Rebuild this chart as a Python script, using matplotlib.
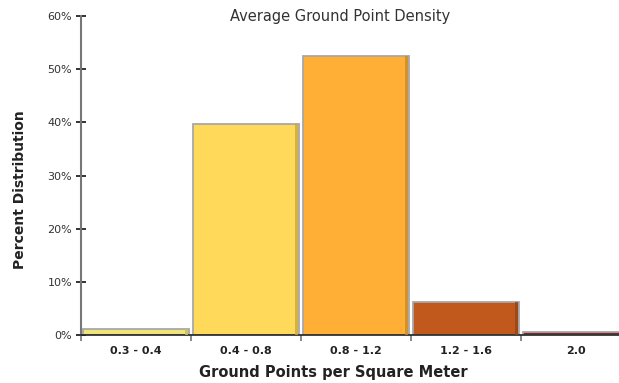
import numpy as np
import matplotlib.pyplot as plt
from matplotlib.ticker import FuncFormatter

categories = ['0.3 - 0.4', '0.4 - 0.8', '0.8 - 1.2', '1.2 - 1.6', '2.0']
percent = [1.1, 39.7, 52.4, 6.2, 0.6]
colors = ['#EFE47A', '#FFDA5A', '#FFAE36', '#C0591B', '#80292C']
shade = ['#C8BE60', '#C8A840', '#C88A2A', '#94441A', '#6A2024']

fig = plt.figure(figsize=(6.19, 3.83), dpi=100)
ax = fig.add_axes([81 / 619, 48 / 383, 550 / 619, 319 / 383])

x = np.arange(len(categories))
w = 0.965
ax.bar(x, percent, width=w, color=colors, edgecolor='#A8A8A8', linewidth=1.3, zorder=2)
# darker strip on the right side of each bar for the bevel look
s = 0.022
ax.bar(x + w / 2 - s / 2 - 0.012, percent, width=s, color=shade, linewidth=0, alpha=0.8, zorder=3)

ax.set_xlim(-0.5, len(categories) - 0.5)
ax.set_ylim(0, 60)
ax.set_yticks(np.arange(0, 61, 10))
ax.yaxis.set_major_formatter(FuncFormatter(lambda v, p: f'{v:.0f}%'))
ax.tick_params(axis='y', direction='inout', length=7, width=1.2, labelsize=8, color='#111111',
               labelcolor='#333333', pad=3)

ax.set_xticks(np.arange(len(categories) + 1) - 0.5)
ax.set_xticklabels([])
ax.set_xticks(x, minor=True)
ax.set_xticklabels(categories, minor=True, fontsize=8, fontweight='bold', color='#222222')
ax.tick_params(axis='x', which='major', direction='out', length=4, width=1.2, color='#777777')
ax.tick_params(axis='x', which='minor', length=0, pad=8)

for side in ['top', 'right']:
    ax.spines[side].set_visible(False)
ax.spines['left'].set_color('#777777')
ax.spines['left'].set_linewidth(1.5)
ax.spines['bottom'].set_color('#222222')
ax.spines['bottom'].set_linewidth(1.2)

fig.text(340 / 619, 1 - 17 / 383, 'Average Ground Point Density', ha='center', va='center',
         fontsize=10.5, color='#333333')
fig.text(20 / 619, 1 - 190 / 383, 'Percent Distribution', ha='center', va='center',
         rotation=90, fontsize=10, fontweight='bold', color='#222222')
fig.text(333 / 619, 1 - 373 / 383, 'Ground Points per Square Meter', ha='center', va='center',
         fontsize=10.5, fontweight='bold', color='#222222')

fig.savefig('out.png', dpi=100)
